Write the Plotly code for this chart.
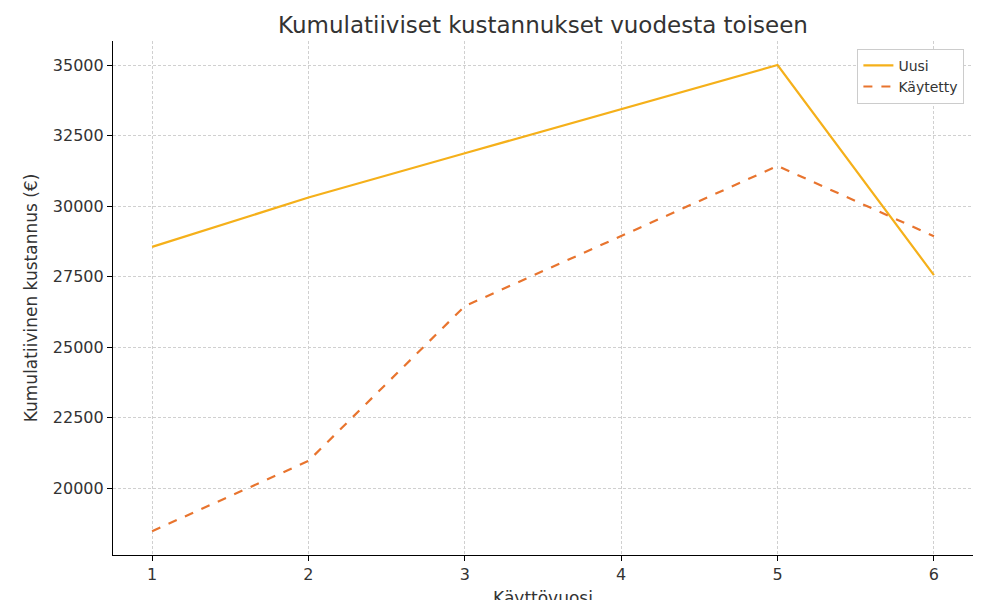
import plotly.graph_objects as go

# käyttövuodet
vuodet = [1, 2, 3, 4, 5, 6]
uusi = [28550, 30300, 31870, 33440, 35000, 27550]
kaytetty = [18470, 20960, 26450, 28940, 31420, 28930]

fig = go.Figure()
fig.add_trace(go.Scatter(x=vuodet, y=uusi, mode="lines", name="Uusi",
                         line=dict(color="#f5b01a", width=2.2)))
fig.add_trace(go.Scatter(x=vuodet, y=kaytetty, mode="lines", name="Käytetty",
                         line=dict(color="#e8742e", width=2.2, dash="dash")))

grid = dict(showgrid=True, gridcolor="#d0d0d0", griddash="3px,2px", gridwidth=1,
            showline=True, linecolor="black", linewidth=1.2, ticks="outside",
            ticklen=5, tickcolor="black", zeroline=False, automargin=False,
            tickfont=dict(size=16, color="#333333"))

fig.update_layout(
    width=1000, height=600,
    paper_bgcolor="white", plot_bgcolor="white",
    margin=dict(l=105, r=35, t=33, b=53),
    font=dict(family="DejaVu Sans", color="#333333"),
    title=dict(text="Kumulatiiviset kustannukset vuodesta toiseen",
               x=0.535, xanchor="center", y=0.972, yanchor="middle",
               font=dict(size=23), automargin=False),
    xaxis=dict(range=[0.75, 6.25], tickvals=vuodet,
               title=dict(text="Käyttövuosi", font=dict(size=17), standoff=8), **grid),
    yaxis=dict(range=[17624, 35851], tickvals=[20000, 22500, 25000, 27500, 30000, 32500, 35000],
               tickformat="d",
               title=dict(text="Kumulatiivinen kustannus (€)", font=dict(size=17), standoff=10), **grid),
    legend=dict(x=0.99, y=0.985, xanchor="right", yanchor="top",
                bordercolor="#cccccc", borderwidth=1, bgcolor="white",
                font=dict(size=14)),
)
fig.write_html("out.html")
